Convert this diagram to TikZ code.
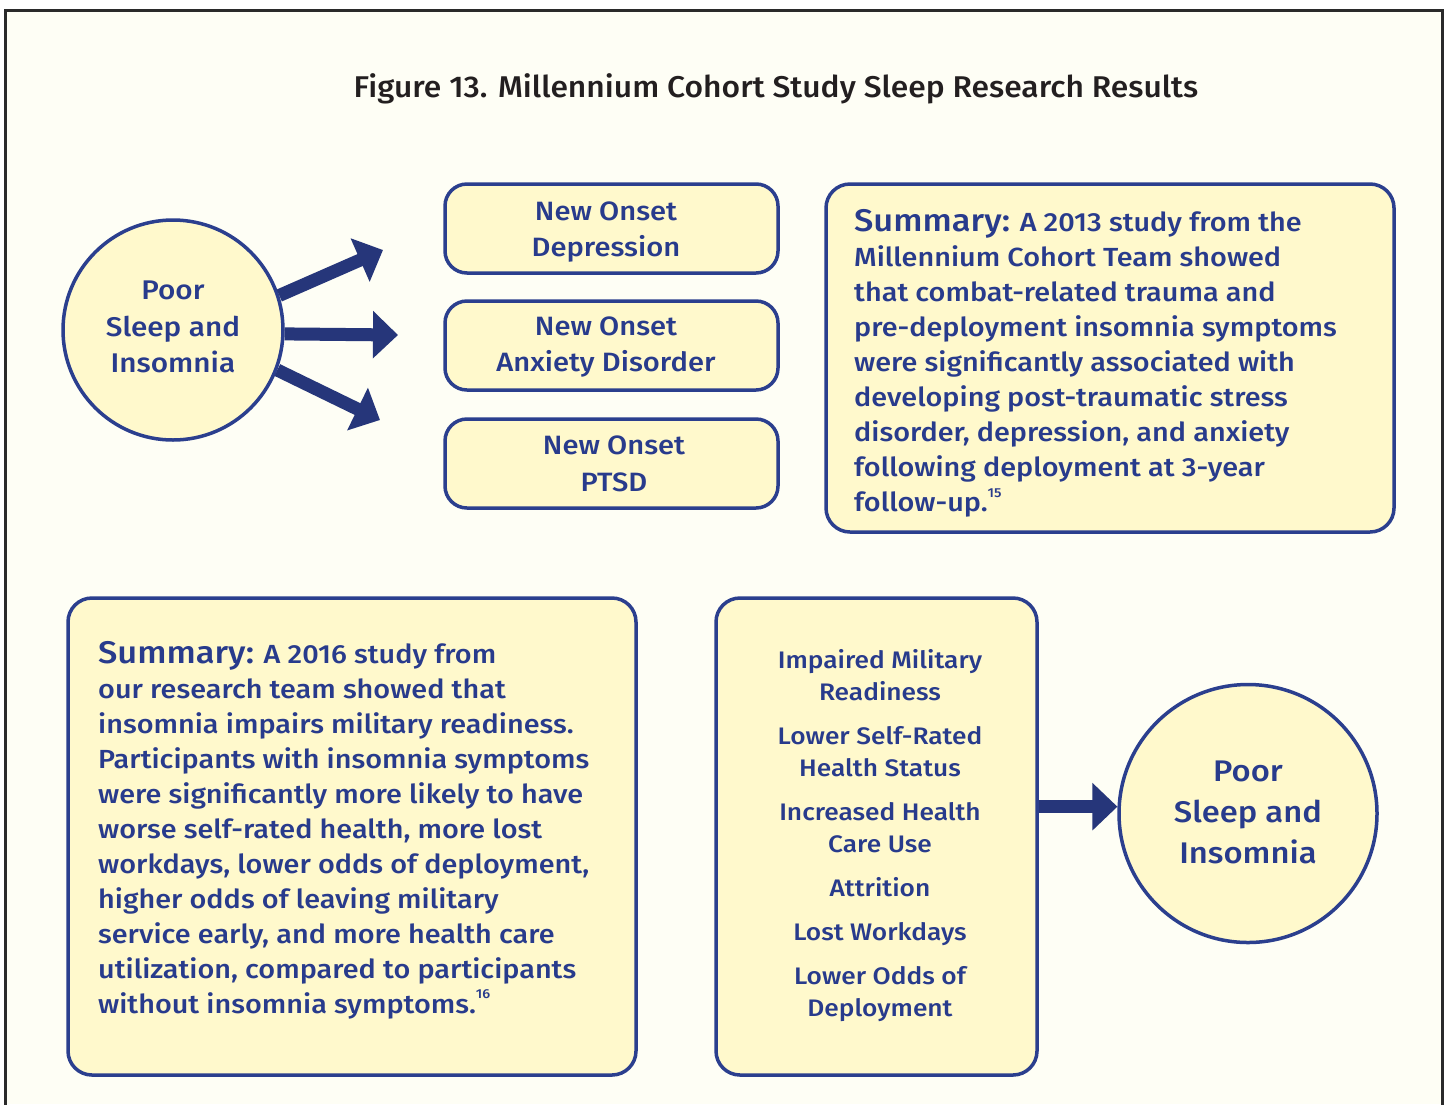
\documentclass[tikz,border=0pt]{standalone}
\usepackage{fontspec}
\setmainfont{Fira Sans}[UprightFont={* Medium}, BoldFont={* SemiBold}, FakeStretch=1.06]
\newfontfamily\widefont{Fira Sans}[UprightFont={* Medium}, FakeStretch=1.1]
\usetikzlibrary{arrows.meta}
\definecolor{bgc}{HTML}{FEFEF5}
\definecolor{boxfill}{HTML}{FFF9CC}
\definecolor{bordc}{HTML}{2B3F8E}
\definecolor{txtc}{HTML}{283B8C}
\definecolor{arrc}{HTML}{26367A}
\definecolor{framec}{HTML}{2A2A2A}
\definecolor{titlec}{HTML}{231F20}
\tikzset{
  boxsh/.style={draw=bordc, line width=3.5pt, fill=boxfill, rounded corners=24pt, rectangle, inner sep=0pt},
  circsh/.style={draw=bordc, line width=3.5pt, fill=boxfill, circle, inner sep=0pt},
  btxt/.style={text=txtc, inner sep=0pt},
  fatarrow/.style={draw=arrc, line width=13pt, -{Triangle[length=25pt,width=46pt]}}
}
\newcommand{\supnum}[1]{\raisebox{0.55em}{\fontsize{13}{13}\selectfont #1}}
\begin{document}
\begin{tikzpicture}[x=1pt,y=-1pt]
\useasboundingbox (0,0) rectangle (1447,1104);
\fill[white] (0,0) rectangle (1447,1104);
\fill[bgc] (5,10) rectangle (1443,1104);
\draw[framec, line width=3pt] (5.5,1110) -- (5.5,10.5) -- (1442.5,10.5) -- (1442.5,1110);

\node[text=titlec, inner sep=0pt, font=\fontsize{30}{36}\selectfont] (title) at (776,89) {Figure 13. Millennium Cohort Study Sleep Research Results};

% top left circle
\node[circsh, minimum size=220pt] (c1) at (173,330) {};
\node[btxt, align=center, font=\widefont\fontsize{27}{36.5}\selectfont] (c1t) at (173,327) {Poor\\Sleep and\\Insomnia};

\coordinate (t1) at (383,250);
\coordinate (t2) at (398,335);
\coordinate (t3) at (380,420);
\draw[fatarrow] (c1.18) -- (t1);
\draw[fatarrow] (c1.-2) -- (t2);
\draw[fatarrow] (c1.-21) -- (t3);

% outcome boxes
\node[boxsh, rounded corners=22pt, minimum width=333pt, minimum height=89pt] (b1) at (611.5,228.5) {};
\node[btxt, align=center, font=\widefont\fontsize{26.5}{35.5}\selectfont] (b1t) at (606,232) {New Onset\\Depression};
\node[boxsh, rounded corners=22pt, minimum width=333pt, minimum height=89pt] (b2) at (611.5,345.5) {};
\node[btxt, align=center, font=\widefont\fontsize{26.5}{36}\selectfont] (b2t) at (606,347.5) {New Onset\\Anxiety Disorder};
\node[boxsh, rounded corners=22pt, minimum width=333pt, minimum height=89pt] (b3) at (611.5,463.5) {};
\node[btxt, align=center, font=\widefont\fontsize{26.5}{37}\selectfont] (b3t) at (614,464) {New Onset\\PTSD};

% summary 1
\node[boxsh, minimum width=568pt, minimum height=348pt] (s1) at (1110,358) {};
\node[btxt, align=left, anchor=north west, font=\widefont\fontsize{26.2}{35}\selectfont] (s1t) at (854,209.5) {{\fontsize{31.3}{35}\selectfont Summary:} A 2013 study from the\\
Millennium Cohort Team showed\\
that combat-related trauma and\\
pre-deployment insomnia symptoms\\
were significantly associated with\\
developing post-traumatic stress\\
disorder, depression, and anxiety\\
following deployment at 3-year\\
follow-up.\supnum{15}};

% summary 2
\node[boxsh, minimum width=568pt, minimum height=477pt] (s2) at (352,836.5) {};
\node[btxt, align=left, anchor=north west, font=\widefont\fontsize{26.2}{35}\selectfont] (s2t) at (98,641) {{\fontsize{31.3}{35}\selectfont Summary:} A 2016 study from\\
our research team showed that\\
insomnia impairs military readiness.\\
Participants with insomnia symptoms\\
were significantly more likely to have\\
worse self-rated health, more lost\\
workdays, lower odds of deployment,\\
higher odds of leaving military\\
service early, and more health care\\
utilization, compared to participants\\
without insomnia symptoms.\supnum{16}};

% list box
\node[boxsh, minimum width=321pt, minimum height=477pt] (lst) at (876.5,836.5) {};
\node[btxt, align=center, font=\widefont\fontsize{23.9}{32}\selectfont] (lstt) at (880,836) {Impaired Military\\Readiness\\[12pt]Lower Self-Rated\\Health Status\\[12pt]Increased Health\\Care Use\\[12pt]Attrition\\[12pt]Lost Workdays\\[12pt]Lower Odds of\\Deployment};

% right circle
\node[circsh, minimum size=258pt] (c2) at (1248,813.5) {};
\node[btxt, align=center, font=\widefont\fontsize{29.8}{41}\selectfont] (c2t) at (1248,812) {Poor\\Sleep and\\Insomnia};

\draw[fatarrow] (c2.177 -| lst.east) -- (c2.177);
\end{tikzpicture}
\end{document}
